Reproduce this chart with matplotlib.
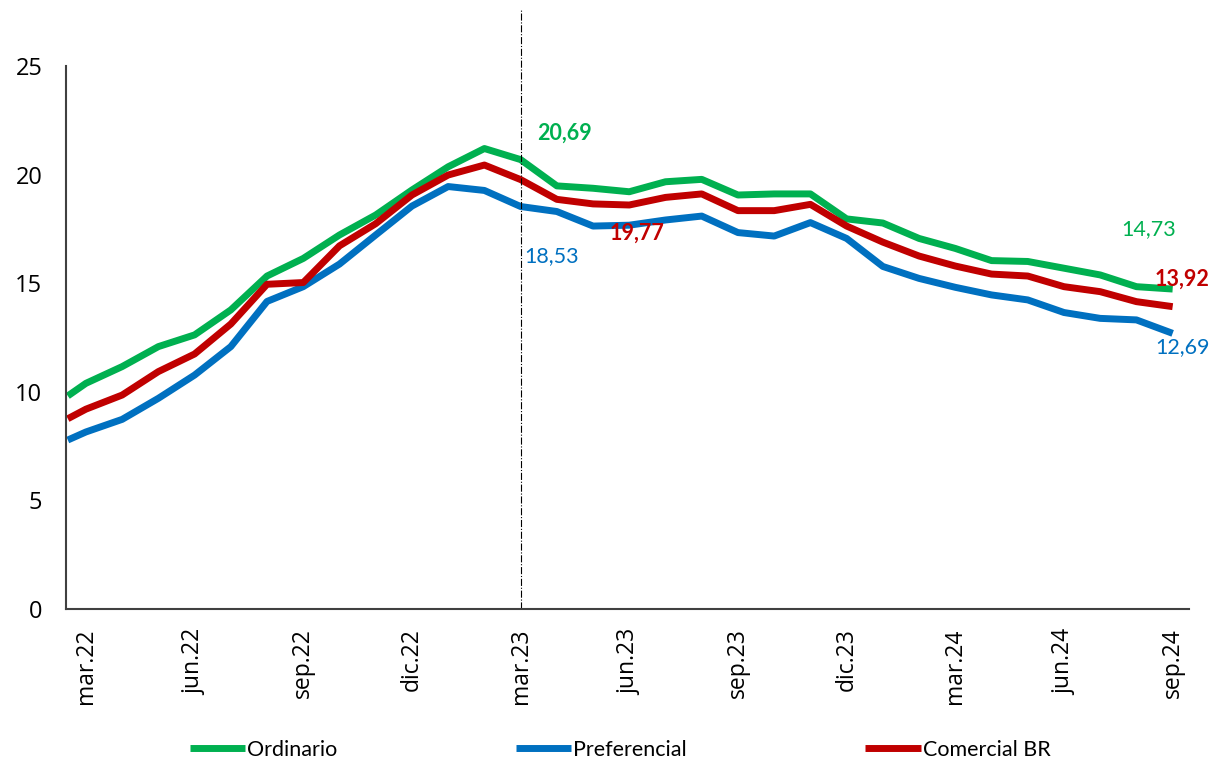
import numpy as np
import matplotlib
matplotlib.use('Agg')
import matplotlib.pyplot as plt

# month index: 0 = mar.22 ... 30 = sep.24 (first point is mid-feb.22)
months = [-0.5] + list(range(31))

ordinario = [9.81, 10.39, 11.16, 12.08, 12.62, 13.77, 15.33, 16.14, 17.22, 18.14,
             19.29, 20.36, 21.20, 20.69, 19.48, 19.37, 19.21, 19.67, 19.78, 19.06,
             19.11, 19.11, 17.96, 17.77, 17.06, 16.60, 16.04, 16.00, 15.69, 15.38,
             14.84, 14.73]
preferencial = [7.78, 8.15, 8.73, 9.70, 10.77, 12.08, 14.16, 14.84, 15.88, 17.22,
                18.55, 19.45, 19.27, 18.53, 18.30, 17.63, 17.67, 17.91, 18.09, 17.33,
                17.17, 17.79, 17.06, 15.77, 15.22, 14.81, 14.46, 14.23, 13.65, 13.38,
                13.31, 12.69]
comercial = [8.76, 9.20, 9.85, 10.93, 11.74, 13.12, 14.95, 15.03, 16.72, 17.74,
             19.06, 19.98, 20.44, 19.77, 18.86, 18.65, 18.60, 18.95, 19.11, 18.34,
             18.34, 18.63, 17.63, 16.89, 16.25, 15.79, 15.42, 15.33, 14.84, 14.61,
             14.15, 13.92]

tick_pos = list(range(0, 31, 3))
tick_labels = ['mar.22', 'jun.22', 'sep.22', 'dic.22', 'mar.23', 'jun.23',
               'sep.23', 'dic.23', 'mar.24', 'jun.24', 'sep.24']

green = '#00B050'
blue = '#0070C0'
red = '#C00000'

fig = plt.figure(figsize=(12.11, 7.62), dpi=100)
ax = fig.add_axes([0.0545, 0.2008, 0.9273, 0.7126])

ax.plot(months, ordinario, color=green, lw=5, label='Ordinario', solid_capstyle='butt')
ax.plot(months, preferencial, color=blue, lw=5, label='Preferencial', solid_capstyle='butt')
ax.plot(months, comercial, color=red, lw=5, label='Comercial BR', solid_capstyle='butt')

ax.set_xlim(-0.55, 30.45)
ax.set_ylim(0, 25)
ax.set_yticks([0, 5, 10, 15, 20, 25])
ax.set_xticks(tick_pos)
ax.set_xticklabels(tick_labels, rotation=90, fontsize=16.5, family='Open Sans')
for t in ax.get_yticklabels():
    t.set_fontsize(17)
    t.set_family('Open Sans')
ax.tick_params(axis='y', length=0, pad=17)
ax.tick_params(axis='x', length=0, pad=14)

for s in ['top', 'right']:
    ax.spines[s].set_visible(False)
for s in ['left', 'bottom']:
    ax.spines[s].set_color('#404040')
    ax.spines[s].set_linewidth(1.5)

# vertical marker at mar.23
ax.axvline(12, ymin=0, ymax=1.103, color='black', lw=0.8, ls='-.', clip_on=False)

# data labels
lab_font = dict(family='Lato', fontsize=15.5)
i = 13  # index of mar.23 in the arrays
ax.annotate('20,69', (months[i], ordinario[i]), xytext=(44, 26), textcoords='offset pixels',
            ha='center', va='center', color=green, fontweight='bold', **lab_font)
ax.annotate('18,53', (months[i], preferencial[i]), xytext=(31, -50), textcoords='offset pixels',
            ha='center', va='center', color=blue, **lab_font)
ax.annotate('19,77', (months[i], comercial[i]), xytext=(116, -54), textcoords='offset pixels',
            ha='center', va='center', color=red, fontweight='bold', **lab_font)
ax.annotate('14,73', (months[-1], ordinario[-1]), xytext=(-24, 60), textcoords='offset pixels',
            ha='center', va='center', color=green, **lab_font)
ax.annotate('13,92', (months[-1], comercial[-1]), xytext=(9, 27), textcoords='offset pixels',
            ha='center', va='center', color=red, fontweight='bold', **lab_font)
ax.annotate('12,69', (months[-1], preferencial[-1]), xytext=(10, -14), textcoords='offset pixels',
            ha='center', va='center', color=blue, **lab_font)

leg = fig.legend(loc='center', bbox_to_anchor=(0.512, 0.016), ncol=3, frameon=False,
                 prop={'family': 'Lato', 'size': 15.5}, handlelength=2.56, handletextpad=0.1,
                 columnspacing=8.3)

fig.savefig('out.png', dpi=100)
